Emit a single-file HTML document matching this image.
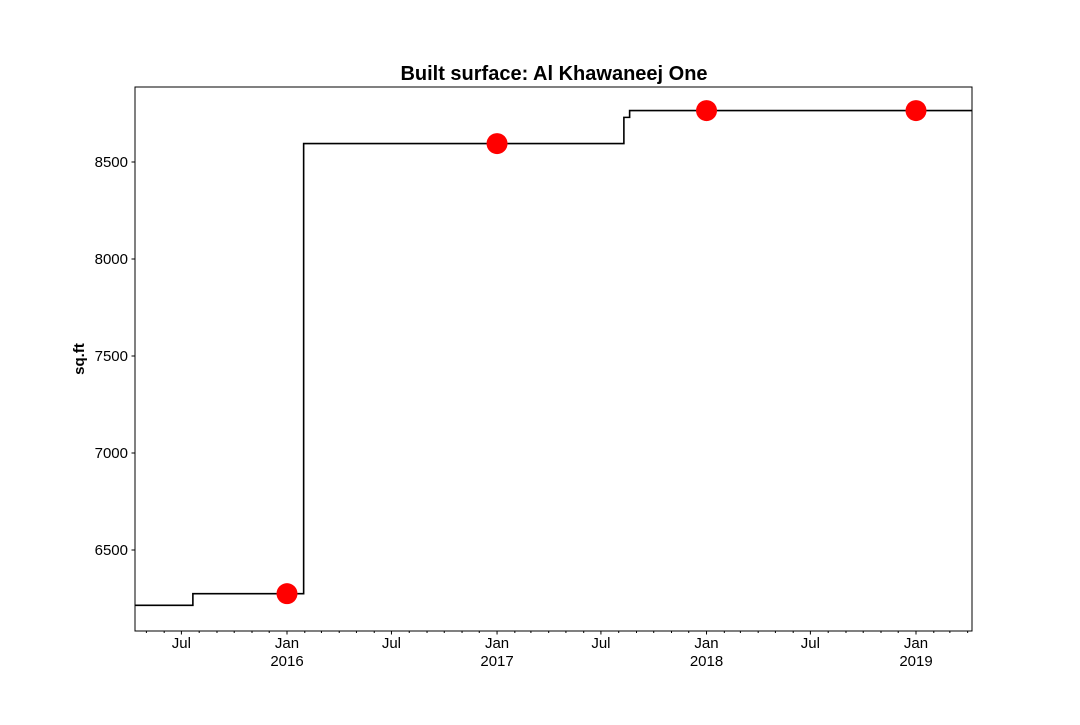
<!DOCTYPE html>
<html><head><meta charset="utf-8"><style>
body{margin:0;background:#fff;font-family:"Liberation Sans","DejaVu Sans",sans-serif}
</style></head><body>
<svg id="c" width="1080" height="720" xmlns="http://www.w3.org/2000/svg"></svg>
<script>
const stepDates=["2015-04-11","2015-07-21","2016-01-30","2017-08-10","2017-08-20","2019-04-08"];
const stepValues=[6215,6275,8595,8730,8765,8765];
const dotDates=["2016-01-01","2017-01-01","2018-01-01","2019-01-01"];
const dotValues=[6275,8595,8765,8765];
const yTicks=[6500,7000,7500,8000,8500];
const L=135,R=972,T=87,B=631;
const d0=Date.parse("2016-01-01"),d1=Date.parse("2019-01-01");
const xmin=Date.parse("2015-04-11"),xmax=Date.parse("2019-04-08");
function X(s){const t=typeof s==="string"?Date.parse(s):s;return 287+(t-d0)/(d1-d0)*629;}
function Y(v){return 550-(v-6500)*0.194;}
const svg=document.getElementById('c');const NS="http://www.w3.org/2000/svg";
function mk(tag,a,p){const e=document.createElementNS(NS,tag);for(const k in a)e.setAttribute(k,a[k]);(p||svg).appendChild(e);return e;}
let t=mk('text',{x:554,y:80,'text-anchor':'middle','font-size':20,'font-weight':'bold'});t.textContent="Built surface: Al Khawaneej One";

t=mk('text',{x:0,y:0,transform:'translate(84,359) rotate(-90)','text-anchor':'middle','font-size':15,'font-weight':'bold'});t.textContent="sq.ft";

let d="";for(let i=0;i<stepDates.length;i++){const x=X(stepDates[i]),y=Y(stepValues[i]);if(i===0)d+=`M${x},${y}`;else d+=`H${x}V${y}`;}
const ln=mk('path',{d:d,fill:'none',stroke:'#000','stroke-width':1.6});

for(let i=0;i<dotDates.length;i++){const c=mk('circle',{cx:X(dotDates[i]),cy:Y(dotValues[i]),r:10.5,fill:'#ff0000'});
}
const fr=mk('rect',{x:L,y:T,width:R-L,height:B-T,fill:'none',stroke:'#000','stroke-width':1});

yTicks.forEach(v=>{const y=Y(v);mk('line',{x1:L-3.5,x2:L,y1:y,y2:y,stroke:'#000'});
const tx=mk('text',{x:L-7,y:y+5,'text-anchor':'end','font-size':15});tx.textContent=v;
});
for(let yr=2015;yr<=2019;yr++)for(let m=0;m<12;m++){const dt=Date.UTC(yr,m,1);if(dt<xmin||dt>xmax)continue;const x=X(dt);
const major=(m===0||m===6);mk('line',{x1:x,x2:x,y1:B,y2:B+(major?3.5:2),stroke:'#000'});
if(major){const tx=mk('text',{x:x,y:B+17,'text-anchor':'middle','font-size':15});tx.textContent=m===0?"Jan":"Jul";

if(m===0){const t2=mk('text',{x:x,y:B+35,'text-anchor':'middle','font-size':15});t2.textContent=yr;
}}}
</script></body></html>
